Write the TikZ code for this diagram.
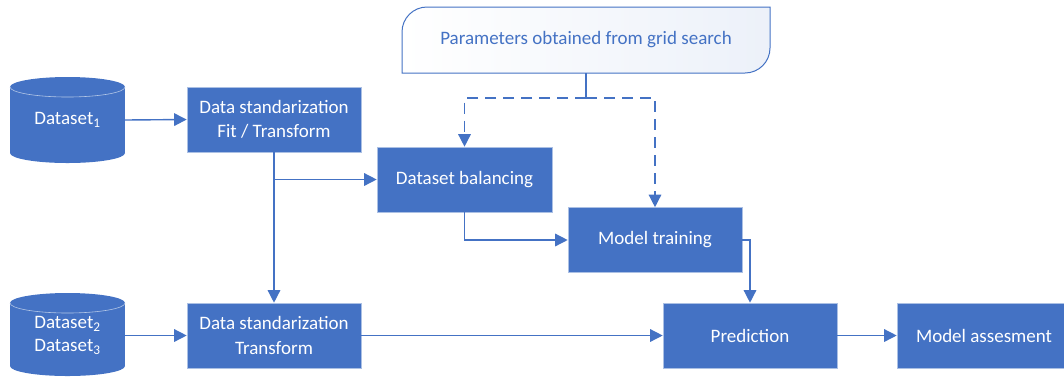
\documentclass[tikz,border=0pt]{standalone}
\usepackage{fontspec}
\setmainfont{Carlito}
\usetikzlibrary{arrows.meta}
\definecolor{accent}{HTML}{4472C4}

% database drum: centre x, centre y of top rim, centre y of bottom rim
\newcommand\dbcyl[3]{%
  \fill[accent] (#1-57.5,#2) rectangle (#1+57.5,#3);
  \fill[accent] (#1,#2) ellipse [x radius=57.5, y radius=10];
  \fill[accent] (#1,#3) ellipse [x radius=57.5, y radius=10];
  \draw[accent!40!white, line width=0.6pt]
    (#1-57.5,#2) .. controls (#1-57.5,#2+5.5) and (#1-31.8,#2+10) .. (#1,#2+10)
    .. controls (#1+31.8,#2+10) and (#1+57.5,#2+5.5) .. (#1+57.5,#2);
}

\begin{document}
\begin{tikzpicture}[x=1pt, y=-1pt,
  txt/.style={font=\fontsize{19}{24.5}\selectfont, align=center, inner sep=0pt},
  box/.style={txt, rectangle, fill=accent, draw=accent!45!white, line width=0.6pt,
    text=white, minimum width=174pt, minimum height=65pt},
  dbtext/.style={txt, text=white, minimum width=115pt},
  link/.style={draw=accent, line width=1.4pt},
  flow/.style={link, -{Triangle[length=12.5pt,width=12.5pt]}},
  dflow/.style={flow, dash pattern=on 11pt off 7pt},
]
\useasboundingbox (0,0) rectangle (1064,376);

% data stores
\dbcyl{67.5}{87}{153}
\dbcyl{67.5}{303}{366}
\node[dbtext, minimum height=86pt] (d1) at (67.5,120) {Dataset\textsubscript{1}};
\node[dbtext, minimum height=73pt, font=\fontsize{19}{23}\selectfont] (d2) at (67.5,335.5)
  {Dataset\textsubscript{2}\\Dataset\textsubscript{3}};

% parameter card
\shade[left color=white, right color=accent!10!white]
  (402,73) -- (402,32) .. controls (402,18.2) and (413.2,7) .. (427,7) -- (770,7)
  -- (770,48) .. controls (770,61.8) and (758.8,73) .. (745,73) -- cycle;
\draw[accent, line width=1pt]
  (402,73) -- (402,32) .. controls (402,18.2) and (413.2,7) .. (427,7) -- (770,7)
  -- (770,48) .. controls (770,61.8) and (758.8,73) .. (745,73) -- cycle;
\node[txt, text=accent, minimum width=368pt, minimum height=66pt] (par) at (586,40)
  {Parameters obtained from grid search};

% process steps
\node[box] (f1) at (274,119.5) {Data standarization\\Fit / Transform};
\node[box] (f2) at (274,335.5) {Data standarization\\Transform};
\node[box, minimum width=175pt] (bal) at (464.5,179.5) {Dataset balancing};
\node[box] (mt) at (655,240) {Model training};
\node[box] (pred) at (750,335.5) {Prediction};
\node[box] (ma) at (984,335.5) {Model assesment};

% connectors
\draw[flow] (d1.east) -- (f1.west);
\draw[flow] (d2.east) -- (f2.west);
\draw[flow] (f1.south) -- (f2.north);
\coordinate (br) at (f1.south |- bal.west);
\draw[flow] (br) -- (bal.west);
\draw[flow] (bal.south) |- (mt.west);
\draw[flow] (mt.east) -| (pred.north);
\draw[flow] (f2.east) -- (pred.west);
\draw[flow] (pred.east) -- (ma.west);

\coordinate (jn) at (586,98);
\draw[link] (par.south) -- (jn);
\draw[dflow] (jn) -| (bal.north);
\draw[dflow] (jn) -| (mt.north);
\end{tikzpicture}
\end{document}
